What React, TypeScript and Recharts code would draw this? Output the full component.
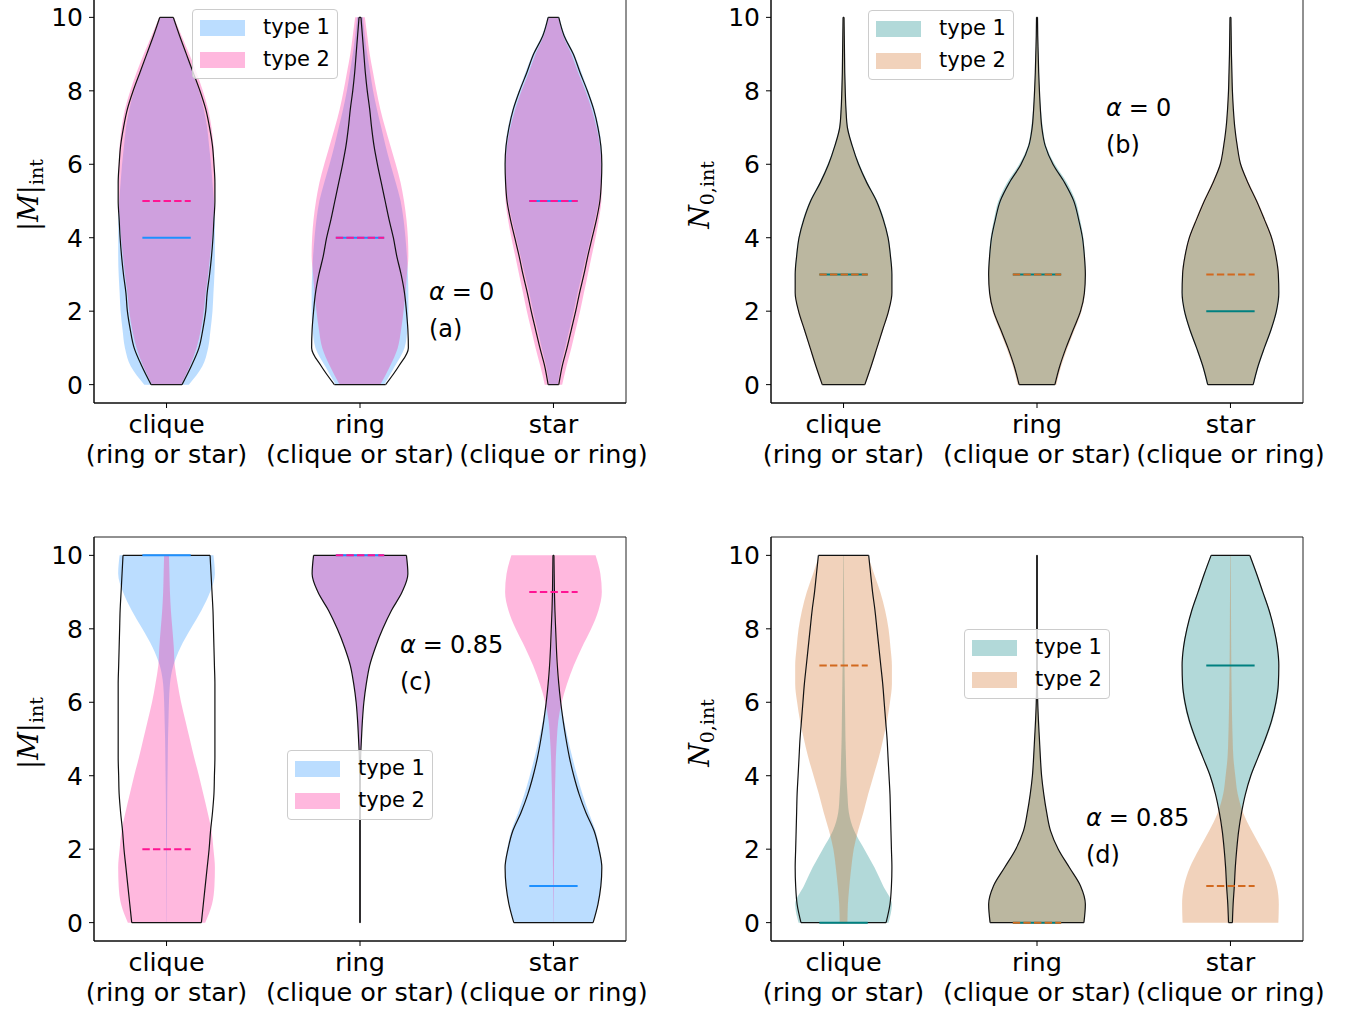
import React from "react";
import { ComposedChart, Area, XAxis, YAxis, ReferenceLine, ReferenceArea } from "recharts";

// y levels where violin widths were read (shared by every violin)
const Y_LEVELS = [0, 0.5, 1, 1.5, 2, 2.5, 3, 3.5, 4, 4.5, 5, 5.5, 6, 6.5, 7, 7.5, 8, 8.5, 9, 9.5, 10];
const Y_TICKS = [0, 2, 4, 6, 8, 10];
const POSITIONS = [1, 2, 3];
const CATEGORY_TOP = ["clique", "ring", "star"];
const CATEGORY_BOTTOM = ["(ring or star)", "(clique or star)", "(clique or ring)"];
const HALF_WIDTH = 0.25; // violin widths=0.5

// relative half-widths (1 = widest), from y=0 up to y=10
// panel (a), alpha = 0
const A_CLIQUE_T1 = [0.46, 0.74, 0.86, 0.91, 0.95, 0.97, 0.99, 1.0, 1.0, 1.0, 0.98, 0.95, 0.92, 0.88, 0.84, 0.77, 0.67, 0.54, 0.4, 0.26, 0.13];
const A_CLIQUE_T2 = [0.3, 0.48, 0.62, 0.71, 0.77, 0.81, 0.86, 0.9, 0.94, 0.97, 0.99, 1.0, 0.99, 0.97, 0.93, 0.86, 0.75, 0.62, 0.47, 0.31, 0.15];
const A_CLIQUE_ALL = [0.32, 0.51, 0.67, 0.75, 0.81, 0.84, 0.89, 0.93, 0.96, 0.98, 1.0, 1.0, 0.98, 0.95, 0.89, 0.81, 0.69, 0.55, 0.41, 0.27, 0.14];
const A_RING_T1 = [0.5, 0.72, 0.92, 0.98, 1.0, 1.0, 0.99, 0.97, 0.94, 0.9, 0.84, 0.74, 0.63, 0.53, 0.44, 0.35, 0.27, 0.21, 0.15, 0.1, 0.06];
const A_RING_T2 = [0.42, 0.62, 0.78, 0.85, 0.9, 0.94, 0.97, 1.0, 0.99, 0.96, 0.91, 0.84, 0.74, 0.63, 0.52, 0.42, 0.34, 0.27, 0.2, 0.15, 0.1];
const A_RING_ALL = [0.53, 0.8, 1.0, 0.99, 0.96, 0.92, 0.85, 0.76, 0.69, 0.6, 0.52, 0.44, 0.36, 0.29, 0.24, 0.2, 0.15, 0.11, 0.08, 0.05, 0.02];
const A_STAR_T1 = [0.09, 0.15, 0.24, 0.33, 0.42, 0.5, 0.59, 0.68, 0.77, 0.86, 0.94, 0.98, 1.0, 0.99, 0.94, 0.85, 0.72, 0.58, 0.43, 0.24, 0.12];
const A_STAR_T2 = [0.18, 0.27, 0.37, 0.46, 0.55, 0.63, 0.71, 0.79, 0.87, 0.94, 0.99, 1.0, 0.99, 0.96, 0.89, 0.79, 0.66, 0.51, 0.37, 0.2, 0.1];
const A_STAR_ALL = [0.11, 0.18, 0.28, 0.37, 0.46, 0.54, 0.63, 0.71, 0.8, 0.89, 0.96, 0.99, 1.0, 0.98, 0.92, 0.83, 0.7, 0.55, 0.41, 0.22, 0.11];

// panel (b), alpha = 0
const B_CLIQUE_T1 = [0.43, 0.56, 0.68, 0.8, 0.92, 0.99, 1.0, 0.98, 0.93, 0.84, 0.7, 0.5, 0.33, 0.19, 0.09, 0.055, 0.04, 0.028, 0.022, 0.016, 0.01];
const B_CLIQUE_T2 = [0.45, 0.58, 0.7, 0.82, 0.94, 1.0, 0.99, 0.96, 0.91, 0.81, 0.67, 0.47, 0.3, 0.17, 0.08, 0.05, 0.035, 0.025, 0.02, 0.015, 0.01];
const B_CLIQUE_ALL = [0.44, 0.57, 0.69, 0.81, 0.93, 1.0, 1.0, 0.97, 0.92, 0.82, 0.68, 0.48, 0.31, 0.18, 0.08, 0.05, 0.035, 0.025, 0.02, 0.015, 0.01];
const B_RING_T1 = [0.36, 0.46, 0.59, 0.74, 0.89, 0.97, 1.0, 0.99, 0.96, 0.89, 0.8, 0.62, 0.37, 0.19, 0.12, 0.08, 0.055, 0.035, 0.025, 0.015, 0.01];
const B_RING_T2 = [0.4, 0.5, 0.63, 0.78, 0.92, 0.99, 1.0, 0.97, 0.92, 0.84, 0.74, 0.55, 0.32, 0.15, 0.1, 0.07, 0.05, 0.03, 0.02, 0.015, 0.01];
const B_RING_ALL = [0.37, 0.47, 0.6, 0.75, 0.9, 0.98, 1.0, 0.98, 0.94, 0.86, 0.76, 0.57, 0.33, 0.17, 0.1, 0.07, 0.05, 0.035, 0.025, 0.015, 0.01];
const B_STAR_T1 = [0.48, 0.58, 0.71, 0.85, 0.96, 1.0, 0.98, 0.93, 0.83, 0.68, 0.52, 0.34, 0.2, 0.13, 0.085, 0.055, 0.04, 0.03, 0.02, 0.015, 0.01];
const B_STAR_T2 = [0.46, 0.56, 0.69, 0.83, 0.94, 0.99, 1.0, 0.95, 0.86, 0.72, 0.56, 0.38, 0.22, 0.15, 0.095, 0.065, 0.045, 0.03, 0.02, 0.015, 0.01];
const B_STAR_ALL = [0.47, 0.57, 0.7, 0.84, 0.95, 1.0, 0.99, 0.94, 0.85, 0.7, 0.54, 0.36, 0.21, 0.14, 0.09, 0.06, 0.04, 0.03, 0.02, 0.015, 0.01];

// panel (c), alpha = 0.85
const C_CLIQUE_T1 = [0.003, 0.004, 0.005, 0.006, 0.008, 0.01, 0.012, 0.015, 0.02, 0.025, 0.03, 0.04, 0.05, 0.07, 0.14, 0.29, 0.5, 0.72, 0.9, 1.0, 0.97];
const C_CLIQUE_T2 = [0.8, 0.94, 0.99, 1.0, 0.97, 0.93, 0.85, 0.76, 0.67, 0.57, 0.48, 0.39, 0.3, 0.23, 0.17, 0.15, 0.12, 0.09, 0.07, 0.06, 0.05];
const C_CLIQUE_ALL = [0.72, 0.76, 0.8, 0.84, 0.88, 0.91, 0.95, 0.98, 0.99, 1.0, 1.0, 1.0, 1.0, 1.0, 0.99, 0.98, 0.97, 0.96, 0.94, 0.92, 0.9];
const C_RING_T1 = [0.003, 0.003, 0.003, 0.003, 0.003, 0.003, 0.004, 0.005, 0.008, 0.013, 0.03, 0.05, 0.08, 0.13, 0.2, 0.32, 0.47, 0.65, 0.87, 0.99, 0.96];
const C_RING_T2 = [0.003, 0.003, 0.003, 0.003, 0.003, 0.003, 0.004, 0.005, 0.008, 0.013, 0.03, 0.05, 0.08, 0.13, 0.2, 0.32, 0.47, 0.65, 0.87, 0.99, 0.96];
const C_RING_ALL = [0.003, 0.003, 0.003, 0.003, 0.003, 0.003, 0.004, 0.005, 0.008, 0.013, 0.03, 0.05, 0.08, 0.13, 0.2, 0.32, 0.47, 0.65, 0.87, 0.99, 0.96];
const C_STAR_T1 = [0.82, 0.92, 0.98, 1.0, 0.96, 0.87, 0.73, 0.6, 0.49, 0.39, 0.3, 0.22, 0.15, 0.1, 0.06, 0.04, 0.025, 0.015, 0.01, 0.007, 0.005];
const C_STAR_T2 = [0.003, 0.005, 0.008, 0.01, 0.015, 0.02, 0.025, 0.03, 0.04, 0.05, 0.07, 0.1, 0.17, 0.28, 0.42, 0.59, 0.78, 0.93, 1.0, 0.97, 0.87];
const C_STAR_ALL = [0.82, 0.92, 0.98, 1.0, 0.94, 0.84, 0.67, 0.53, 0.42, 0.33, 0.26, 0.2, 0.15, 0.11, 0.08, 0.06, 0.045, 0.03, 0.02, 0.015, 0.01];

// panel (d), alpha = 0.85
const D_CLIQUE_T1 = [0.93, 1.0, 0.82, 0.64, 0.43, 0.22, 0.11, 0.08, 0.06, 0.05, 0.04, 0.035, 0.03, 0.025, 0.02, 0.018, 0.015, 0.012, 0.01, 0.007, 0.005];
const D_CLIQUE_T2 = [0.08, 0.09, 0.12, 0.16, 0.21, 0.3, 0.41, 0.51, 0.62, 0.73, 0.82, 0.9, 0.96, 1.0, 1.0, 0.97, 0.93, 0.86, 0.76, 0.63, 0.5];
const D_CLIQUE_ALL = [0.88, 0.96, 0.99, 1.0, 0.99, 0.98, 0.97, 0.96, 0.94, 0.92, 0.9, 0.87, 0.84, 0.81, 0.77, 0.73, 0.69, 0.65, 0.6, 0.56, 0.52];
const D_RING_T1 = [0.97, 1.0, 0.9, 0.67, 0.44, 0.28, 0.2, 0.14, 0.095, 0.07, 0.05, 0.03, 0.015, 0.008, 0.005, 0.005, 0.004, 0.004, 0.004, 0.004, 0.004];
const D_RING_T2 = [0.97, 1.0, 0.9, 0.67, 0.44, 0.28, 0.2, 0.14, 0.095, 0.07, 0.05, 0.03, 0.015, 0.008, 0.005, 0.005, 0.004, 0.004, 0.004, 0.004, 0.004];
const D_RING_ALL = [0.97, 1.0, 0.9, 0.67, 0.44, 0.28, 0.2, 0.14, 0.095, 0.07, 0.05, 0.03, 0.015, 0.008, 0.005, 0.005, 0.004, 0.004, 0.004, 0.004, 0.004];
const D_STAR_T1 = [0.035, 0.05, 0.075, 0.095, 0.125, 0.165, 0.225, 0.31, 0.43, 0.58, 0.74, 0.87, 0.96, 1.0, 1.0, 0.98, 0.91, 0.81, 0.68, 0.55, 0.41];
const D_STAR_T2 = [0.99, 1.0, 0.96, 0.84, 0.65, 0.44, 0.26, 0.15, 0.1, 0.06, 0.045, 0.035, 0.028, 0.022, 0.018, 0.015, 0.013, 0.011, 0.009, 0.007, 0.005];
const D_STAR_ALL = [0.04, 0.055, 0.08, 0.1, 0.13, 0.17, 0.23, 0.31, 0.42, 0.57, 0.72, 0.85, 0.94, 0.99, 1.0, 0.97, 0.9, 0.8, 0.67, 0.54, 0.4];

// medians per category (clique, ring, star)
const A_MED_T1 = [4, 4, 5];
const A_MED_T2 = [5, 4, 5];
const B_MED_T1 = [3, 3, 2];
const B_MED_T2 = [3, 3, 3];
const C_MED_T1 = [10, 10, 1];
const C_MED_T2 = [2, 10, 9];
const D_MED_T1 = [0, 0, 7];
const D_MED_T2 = [7, 0, 1];

const BLUE = "#1e90ff";
const PINK = "#ff1493";
const TEAL = "#008080";
const CHOC = "#d2691e";
const FONT = "'DejaVu Sans', sans-serif";

type PanelDef = {
  id: string;
  plotLeft: number;
  plotTop: number;
  t1: number[][];
  t2: number[][];
  all: number[][];
  med1: number[];
  med2: number[];
  c1: string;
  c2: string;
  yLabel: "M" | "N";
  labelDx: number;
  alpha: string;
  tag: string;
  textX: number;
  textY: number;
  legendX: number;
  legendY: number;
};

const PANELS: PanelDef[] = [
  {
    id: "a", plotLeft: 94, plotTop: -1.4,
    t1: [A_CLIQUE_T1, A_RING_T1, A_STAR_T1], t2: [A_CLIQUE_T2, A_RING_T2, A_STAR_T2], all: [A_CLIQUE_ALL, A_RING_ALL, A_STAR_ALL],
    med1: A_MED_T1, med2: A_MED_T2, c1: BLUE, c2: PINK, yLabel: "M", labelDx: 4,
    alpha: "0", tag: "(a)", textX: 429, textY: 300, legendX: 192, legendY: 9,
  },
  {
    id: "b", plotLeft: 770.5, plotTop: -1.4,
    t1: [B_CLIQUE_T1, B_RING_T1, B_STAR_T1], t2: [B_CLIQUE_T2, B_RING_T2, B_STAR_T2], all: [B_CLIQUE_ALL, B_RING_ALL, B_STAR_ALL],
    med1: B_MED_T1, med2: B_MED_T2, c1: TEAL, c2: CHOC, yLabel: "N", labelDx: -2,
    alpha: "0", tag: "(b)", textX: 1106, textY: 116, legendX: 868, legendY: 10,
  },
  {
    id: "c", plotLeft: 94, plotTop: 536.6,
    t1: [C_CLIQUE_T1, C_RING_T1, C_STAR_T1], t2: [C_CLIQUE_T2, C_RING_T2, C_STAR_T2], all: [C_CLIQUE_ALL, C_RING_ALL, C_STAR_ALL],
    med1: C_MED_T1, med2: C_MED_T2, c1: BLUE, c2: PINK, yLabel: "M", labelDx: 4,
    alpha: "0.85", tag: "(c)", textX: 400, textY: 653, legendX: 287, legendY: 750,
  },
  {
    id: "d", plotLeft: 770.5, plotTop: 536.6,
    t1: [D_CLIQUE_T1, D_RING_T1, D_STAR_T1], t2: [D_CLIQUE_T2, D_RING_T2, D_STAR_T2], all: [D_CLIQUE_ALL, D_RING_ALL, D_STAR_ALL],
    med1: D_MED_T1, med2: D_MED_T2, c1: TEAL, c2: CHOC, yLabel: "N", labelDx: -2,
    alpha: "0.85", tag: "(d)", textX: 1086, textY: 826, legendX: 964, legendY: 629,
  },
];

const PLOT_W = 532;
const PLOT_H = 404;
const M_LEFT = 94;
const M_TOP = 20;
const M_RIGHT = 44;
const M_BOTTOM = 80;
const Y_AXIS_W = 60;

function buildRows(p: PanelDef) {
  return Y_LEVELS.map((y, i) => {
    const row: Record<string, any> = { y };
    POSITIONS.forEach((pos, c) => {
      const w1 = p.t1[c][i] * HALF_WIDTH;
      const w2 = p.t2[c][i] * HALF_WIDTH;
      const wa = p.all[c][i] * HALF_WIDTH;
      row[`t1_${c}`] = [pos - w1, pos + w1];
      row[`t2_${c}`] = [pos - w2, pos + w2];
      row[`all_${c}`] = [pos - wa, pos + wa];
    });
    return row;
  });
}

function CategoryTick(props: any) {
  const { x, y, payload } = props;
  const idx = POSITIONS.indexOf(payload.value);
  if (idx < 0) return null;
  return (
    <text x={x} y={y} textAnchor="middle" fontFamily={FONT} fontSize={25.5} fill="#000">
      <tspan x={x} dy={23}>{CATEGORY_TOP[idx]}</tspan>
      <tspan x={x} dy={29.5}>{CATEGORY_BOTTOM[idx]}</tspan>
    </text>
  );
}

function AxisTitle(props: any) {
  const { viewBox, kind, dx } = props;
  if (!viewBox) return null;
  const cx = viewBox.x + dx;
  const cy = viewBox.y + viewBox.height / 2 - 6;
  return (
    <text
      x={cx}
      y={cy}
      transform={`rotate(-90 ${cx} ${cy})`}
      textAnchor="middle"
      fontFamily="'DejaVu Serif', serif"
      fontSize={27}
      fill="#000"
    >
      {kind === "M" ? (
        <>
          <tspan>|</tspan>
          <tspan fontStyle="italic">M</tspan>
          <tspan>|</tspan>
          <tspan fontSize={19} dy={5}>int</tspan>
        </>
      ) : (
        <>
          <tspan fontStyle="italic">N</tspan>
          <tspan fontSize={19} dy={5}>0,int</tspan>
        </>
      )}
    </text>
  );
}

function ViolinPanel({ p }: { p: PanelDef }) {
  const rows = buildRows(p);
  const width = M_LEFT + PLOT_W + M_RIGHT;
  const height = M_TOP + PLOT_H + M_BOTTOM;
  return (
    <div style={{ position: "absolute", left: p.plotLeft - M_LEFT, top: p.plotTop - M_TOP }}>
      <ComposedChart
        layout="vertical"
        width={width}
        height={height}
        data={rows}
        margin={{ top: M_TOP, right: M_RIGHT, bottom: M_BOTTOM - 70, left: M_LEFT - Y_AXIS_W }}
      >
        <XAxis
          type="number"
          domain={[0.625, 3.375]}
          ticks={POSITIONS}
          allowDataOverflow
          height={70}
          tick={<CategoryTick />}
          tickSize={5}
          tickLine={{ stroke: "#000" }}
          axisLine={{ stroke: "#000" }}
          interval={0}
        />
        <YAxis
          type="number"
          dataKey="y"
          domain={[-0.5, 10.5]}
          ticks={Y_TICKS}
          allowDataOverflow
          reversed
          width={Y_AXIS_W}
          tickSize={5}
          tickMargin={6}
          tick={{ fontSize: 25, fill: "#000", fontFamily: FONT }}
          tickLine={{ stroke: "#000" }}
          axisLine={{ stroke: "#000" }}
          interval={0}
          label={(lp: any) => <AxisTitle {...lp} kind={p.yLabel} dx={p.labelDx} />}
        />
        <ReferenceArea x1={0.625} x2={3.375} y1={-0.5} y2={10.5} fill="none" stroke="#222" strokeWidth={1} />
        {POSITIONS.map((_, c) => (
          <Area
            key={`t1${c}`}
            dataKey={`t1_${c}`}
            type="monotone"
            fill={p.c1}
            fillOpacity={0.3}
            stroke="none"
            dot={false}
            activeDot={false}
            isAnimationActive={false}
          />
        ))}
        {POSITIONS.map((_, c) => (
          <Area
            key={`t2${c}`}
            dataKey={`t2_${c}`}
            type="monotone"
            fill={p.c2}
            fillOpacity={0.3}
            stroke="none"
            dot={false}
            activeDot={false}
            isAnimationActive={false}
          />
        ))}
        {POSITIONS.map((_, c) => (
          <Area
            key={`all${c}`}
            dataKey={`all_${c}`}
            type="monotone"
            fill="none"
            stroke="#111"
            strokeWidth={1.2}
            dot={false}
            activeDot={false}
            isAnimationActive={false}
          />
        ))}
        {POSITIONS.map((pos, c) => {
          const w0 = p.all[c][0] * HALF_WIDTH;
          const w1 = p.all[c][Y_LEVELS.length - 1] * HALF_WIDTH;
          return (
            <React.Fragment key={`ends${c}`}>
              <ReferenceLine
                segment={[{ x: pos - w0, y: Y_LEVELS[0] }, { x: pos + w0, y: Y_LEVELS[0] }]}
                stroke="#111"
                strokeWidth={1.2}
              />
              <ReferenceLine
                segment={[
                  { x: pos - w1, y: Y_LEVELS[Y_LEVELS.length - 1] },
                  { x: pos + w1, y: Y_LEVELS[Y_LEVELS.length - 1] },
                ]}
                stroke="#111"
                strokeWidth={1.2}
              />
            </React.Fragment>
          );
        })}
        {POSITIONS.map((pos, c) => (
          <ReferenceLine
            key={`m1${c}`}
            segment={[{ x: pos - 0.125, y: p.med1[c] }, { x: pos + 0.125, y: p.med1[c] }]}
            stroke={p.c1}
            strokeWidth={2}
          />
        ))}
        {POSITIONS.map((pos, c) => (
          <ReferenceLine
            key={`m2${c}`}
            segment={[{ x: pos - 0.125, y: p.med2[c] }, { x: pos + 0.125, y: p.med2[c] }]}
            stroke={p.c2}
            strokeWidth={2}
            strokeDasharray="7.4 3.2"
          />
        ))}
      </ComposedChart>
    </div>
  );
}

function LegendBox({ p }: { p: PanelDef }) {
  const items = [
    { label: "type 1", color: p.c1 },
    { label: "type 2", color: p.c2 },
  ];
  return (
    <div
      style={{
        position: "absolute",
        left: p.legendX,
        top: p.legendY,
        width: 146,
        height: 70,
        boxSizing: "border-box",
        border: "1px solid #cccccc",
        borderRadius: 4,
        background: "rgba(255,255,255,0.8)",
        fontFamily: FONT,
        fontSize: 21,
        color: "#000",
      }}
    >
      {items.map((it, i) => (
        <div key={it.label} style={{ position: "absolute", left: 7, top: 9 + i * 32, height: 17, display: "flex", alignItems: "center" }}>
          <div style={{ width: 45, height: 16, background: it.color, opacity: 0.3 }} />
          <div style={{ marginLeft: 18, lineHeight: "17px", whiteSpace: "nowrap" }}>{it.label}</div>
        </div>
      ))}
    </div>
  );
}

function Annotation({ p }: { p: PanelDef }) {
  const base = { position: "absolute" as const, fontFamily: FONT, fontSize: 24, lineHeight: "24px", color: "#000", whiteSpace: "nowrap" as const };
  return (
    <>
      <div style={{ ...base, left: p.textX, top: p.textY - 20 }}>
        <span style={{ fontStyle: "italic" }}>α</span>
        <span style={{ marginLeft: 7, marginRight: 7 }}>=</span>
        {p.alpha}
      </div>
      <div style={{ ...base, left: p.textX, top: p.textY + 37 - 20 }}>{p.tag}</div>
    </>
  );
}

export default function App() {
  return (
    <div style={{ position: "absolute", left: 0, top: 0, width: 1352, height: 1010, overflow: "hidden", background: "#fff" }}>
      {PANELS.map((p) => (
        <ViolinPanel key={p.id} p={p} />
      ))}
      {PANELS.map((p) => (
        <LegendBox key={`l${p.id}`} p={p} />
      ))}
      {PANELS.map((p) => (
        <Annotation key={`t${p.id}`} p={p} />
      ))}
    </div>
  );
}
